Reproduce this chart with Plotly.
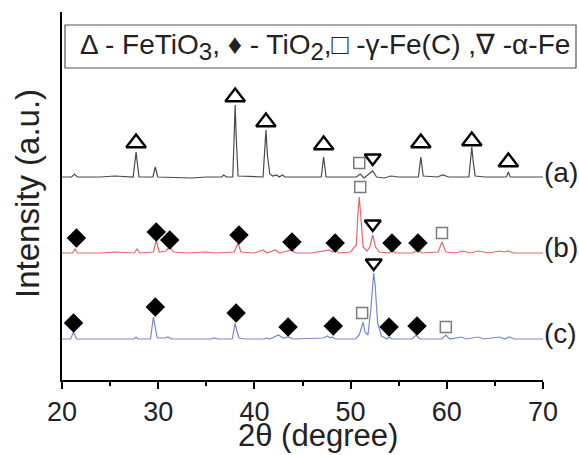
import plotly.graph_objects as go

# ---- data (2theta in degrees, intensity in arbitrary units) ----
x_a = [20.0, 21.0, 21.3, 21.6, 24.0, 25.5, 27.4, 27.7, 28.0, 29.45, 29.7, 29.95, 33.5, 35.0, 36.6, 36.8, 37.1,
       37.75, 37.9, 38.0, 38.1, 38.3, 40.9, 41.05, 41.2, 41.35, 41.6, 41.9, 42.3, 42.6, 42.9, 43.2, 45.0,
       46.95, 47.2, 47.45, 49.5, 50.6, 51.0, 51.4, 52.3, 52.7, 53.5, 54.2, 55.0, 57.05, 57.3, 57.55, 59.0,
       59.6, 60.2, 62.3, 62.45, 62.6, 62.75, 62.95, 64.0, 66.2, 66.4, 66.6, 70.0]
y_a = [203, 203, 206, 203, 203, 204, 203, 228, 203, 203, 213, 203, 202, 203, 203, 205, 203,
       203, 245, 275, 245, 204, 203, 225, 250, 225, 206, 204, 205, 203, 205, 203, 203,
       203, 223, 203, 203, 203, 206, 202, 209, 203, 202, 204, 203, 203, 223, 204, 203,
       205, 203, 203, 218, 233, 218, 204, 203, 203, 208, 203, 203]

x_b = [20.0, 21.1, 21.35, 21.6, 24.0, 25.5, 27.5, 27.8, 28.1, 29.5, 29.8, 30.1, 30.8, 31.2, 31.6, 33.0,
       35.0, 36.0, 37.9, 38.3, 38.6, 40.0, 40.9, 41.3, 42.2, 42.6, 43.0, 43.8, 44.3, 46.0, 47.8, 48.1,
       48.4, 48.8, 50.0, 50.6, 50.75, 50.9, 51.05, 51.3, 51.7, 52.0, 52.3, 52.6, 53.0, 54.0, 54.3, 54.7,
       56.5, 57.0, 57.4, 59.1, 59.5, 59.9, 60.8, 61.7, 62.4, 63.3, 64.3, 65.5, 66.0, 66.4, 66.9, 70.0]
y_b = [127, 127, 131, 127, 127, 128, 127, 131, 127, 128, 140, 128, 129, 133, 128, 127,
       128, 127, 128, 137, 128, 127, 130, 127, 130, 127, 128, 130, 127, 127, 130, 128,
       130, 127, 128, 135, 165, 183, 165, 133, 129, 133, 145, 133, 128, 127, 130, 127,
       127, 130, 127, 128, 138, 128, 127, 129, 127, 129, 127, 129, 128, 129, 127, 127]

x_c = [20.0, 20.9, 21.2, 21.5, 24.0, 27.5, 27.7, 27.9, 29.2, 29.4, 29.5, 29.65, 29.9, 30.7, 31.0, 31.4,
       35.5, 35.8, 36.2, 37.7, 37.9, 38.0, 38.15, 38.4, 39.0, 41.0, 41.3, 41.6, 42.5, 43.0, 43.5, 44.0,
       47.2, 47.6, 47.9, 48.1, 48.4, 50.5, 50.9, 51.2, 51.3, 51.5, 51.8, 52.1, 52.3, 52.4, 52.55, 52.8,
       53.2, 53.8, 54.0, 54.3, 56.4, 56.8, 57.2, 59.5, 59.9, 60.3, 61.5, 62.0, 63.3, 63.8, 65.5, 66.0,
       66.5, 67.0, 70.0]
y_c = [41, 41, 48, 41, 41, 41, 43, 41, 41, 55, 63, 55, 42, 42, 43, 41,
       41, 42, 41, 41, 52, 57, 50, 42, 41, 41, 42, 41, 45, 42, 43, 41,
       42, 44, 42, 43, 41, 41, 45, 56, 58, 48, 45, 70, 103, 107, 95, 58,
       44, 41, 43, 41, 41, 45, 41, 41, 45, 41, 43, 41, 43, 41, 43, 41,
       43, 41, 41]

# phase markers
feti_x = [27.7, 38.0, 41.2, 47.2, 57.3, 62.6, 66.4]
feti_y = [237, 283, 258, 235, 237, 239, 218]
tio2_x = [21.5, 29.8, 31.2, 38.4, 43.9, 48.4, 54.3, 57.0, 21.2, 29.7, 38.1, 43.5, 48.2, 54.0, 56.9]
tio2_y = [142, 148, 140, 145, 138, 137, 137, 137, 57, 73, 67, 53, 54, 53, 54]
gfe_x = [50.9, 51.0, 59.5, 51.2, 59.9]
gfe_y = [217, 193, 147, 67, 53]
afe_x = [52.3, 52.3, 52.4]
afe_y = [222, 156, 117]

sample_labels = ["(a)", "(b)", "(c)"]
label_y = [208, 133, 47]

SUB = '<sub><span style="font-size:24px">{}</span></sub>'
legend_text = ("Δ - FeTiO" + SUB.format("3") + ", ♦ - TiO" + SUB.format("2") + ",□ -γ-Fe(C) ,∇ -α-Fe")

FONT = "Liberation Sans, Arial, sans-serif"

fig = go.Figure()
fig.add_trace(go.Scatter(x=x_a, y=y_a, mode="lines", line=dict(color="#4a4a4a", width=1.2), hoverinfo="skip"))
fig.add_trace(go.Scatter(x=x_b, y=y_b, mode="lines", line=dict(color="#e8666a", width=1.2), hoverinfo="skip"))
fig.add_trace(go.Scatter(x=x_c, y=y_c, mode="lines", line=dict(color="#7a88cc", width=1.2), hoverinfo="skip"))

fig.add_trace(go.Scatter(x=feti_x, y=feti_y, mode="markers",
                         marker=dict(symbol="triangle-up-open", size=17, color="black", line=dict(width=2.4, color="black"))))
fig.add_trace(go.Scatter(x=tio2_x, y=tio2_y, mode="markers",
                         marker=dict(symbol="diamond", size=15, color="black", line=dict(width=0))))
fig.add_trace(go.Scatter(x=gfe_x, y=gfe_y, mode="markers",
                         marker=dict(symbol="square-open", size=11, color="#7a7a7a", line=dict(width=1.5, color="#7a7a7a"))))
fig.add_trace(go.Scatter(x=afe_x, y=afe_y, mode="markers",
                         marker=dict(symbol="triangle-down-open", size=14, color="black", line=dict(width=2.4, color="black"))))

for lab, ly in zip(sample_labels, label_y):
    fig.add_annotation(x=70, y=ly, xref="x", yref="y", text=lab, showarrow=False,
                       xanchor="left", yanchor="middle", xshift=-1,
                       font=dict(family=FONT, size=28, color="#222222"))

# legend box
fig.add_shape(type="rect", xref="paper", yref="paper",
              x0=(65 - 62) / 481, x1=(576 - 62) / 481, y0=(380 - 68) / 368, y1=(380 - 25) / 368,
              line=dict(color="#555555", width=1.2), fillcolor="white")
fig.add_annotation(x=(325 - 62) / 481, y=(380 - 47) / 368, xref="paper", yref="paper",
                   text=legend_text, showarrow=False, xanchor="center", yanchor="middle",
                   font=dict(family=FONT, size=28, color="#222222"))

# axis titles as annotations
fig.add_annotation(x=(318 - 62) / 481, y=-(435 - 380) / 368, xref="paper", yref="paper",
                   text="2θ (degree)", showarrow=False, xanchor="center", yanchor="middle",
                   font=dict(family=FONT, size=31, color="#222222"))
fig.add_annotation(x=-(62 - 27) / 481, y=(380 - 194) / 368, xref="paper", yref="paper",
                   text="Intensity (a.u.)", showarrow=False, textangle=-90, xanchor="center", yanchor="middle",
                   font=dict(family=FONT, size=33, color="#222222"))

fig.update_layout(
    width=579, height=455,
    margin=dict(l=62, r=36, t=12, b=75),
    paper_bgcolor="white", plot_bgcolor="white",
    showlegend=False,
    xaxis=dict(range=[20, 70], showgrid=False, zeroline=False, showline=True, linecolor="black", linewidth=1.5,
               ticks="outside", ticklen=7, tickwidth=1.5, tickcolor="black", dtick=10, tick0=20,
               tickfont=dict(family=FONT, size=27, color="#222222"),
               minor=dict(ticks="outside", ticklen=4, tickwidth=1.5, tickcolor="black", dtick=5, showgrid=False)),
    yaxis=dict(range=[0, 368], showgrid=False, zeroline=False, showline=True, linecolor="black", linewidth=1.5,
               ticks="", showticklabels=False),
)

fig.write_html("out.html", config={"displayModeBar": False},
               post_script="document.body.style.margin='0';document.body.style.padding='0';")
